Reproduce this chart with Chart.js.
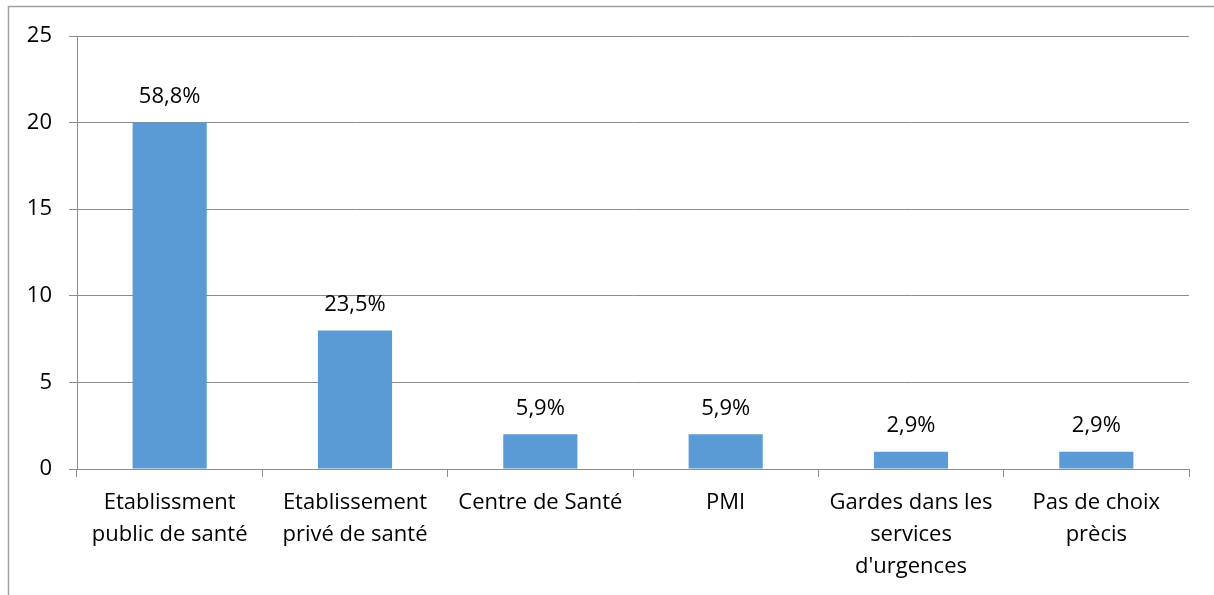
<!DOCTYPE html>
<html lang="fr">
<head>
    <meta charset="UTF-8">
    <title>Lieux de stage</title>
    <script src="https://cdn.jsdelivr.net/npm/chart.js"></script>
    <style>
        body { margin: 0; background: #fff; }
        #wrap { width: 1214px; height: 595px; position: relative; }
    </style>
</head>
<body>
<div id="wrap"><canvas id="chart"></canvas></div>
<script>
    // data
    const categories = [
        ['Etablissment', 'public de santé'],
        ['Etablissement', 'privé de santé'],
        'Centre de Santé',
        'PMI',
        ['Gardes dans les', 'services', "d'urgences"],
        ['Pas de choix', 'prècis']
    ];
    const counts = [20, 8, 2, 2, 1, 1];
    const percentLabels = ['58,8%', '23,5%', '5,9%', '5,9%', '2,9%', '2,9%'];
    const yTicks = [0, 5, 10, 15, 20, 25];

    const FONT = '"Open Sans", "Noto Sans", sans-serif';
    const gridGray = '#8c8c8c';

    // outer frame (left + top lines only, like the source)
    const framePlugin = {
        id: 'frame',
        beforeDraw(chart) {
            const ctx = chart.ctx;
            ctx.save();
            ctx.strokeStyle = '#a0a0a0';
            ctx.lineWidth = 1.5;
            ctx.beginPath();
            ctx.moveTo(8.5, 595);
            ctx.lineTo(8.5, 6.5);
            ctx.lineTo(1214, 6.5);
            ctx.stroke();
            ctx.restore();
        }
    };

    // percentage above each bar
    const valueLabels = {
        id: 'valueLabels',
        afterDatasetsDraw(chart) {
            const ctx = chart.ctx;
            const meta = chart.getDatasetMeta(0);
            ctx.save();
            ctx.font = '22px ' + FONT;
            ctx.fillStyle = '#000';
            ctx.textAlign = 'center';
            ctx.textBaseline = 'middle';
            meta.data.forEach((bar, i) => {
                ctx.fillText(percentLabels[i], bar.x, bar.y - 26);
            });
            ctx.restore();
        }
    };

    new Chart(document.getElementById('chart'), {
        type: 'bar',
        data: {
            labels: categories,
            datasets: [{
                data: counts,
                backgroundColor: '#5b9bd5',
                borderWidth: 0,
                categoryPercentage: 0.4,
                barPercentage: 1
            }]
        },
        options: {
            responsive: true,
            maintainAspectRatio: false,
            animation: false,
            layout: { padding: { left: 0, right: 25, top: 36, bottom: 0 } },
            plugins: { legend: { display: false }, tooltip: { enabled: false } },
            scales: {
                x: {
                    grid: { drawOnChartArea: false, color: gridGray, tickLength: 8, offset: true },
                    border: { color: gridGray, width: 1 },
                    ticks: {
                        color: '#000',
                        font: { family: FONT, size: 22, lineHeight: 1.45 },
                        padding: 10,
                        maxRotation: 0,
                        autoSkip: false
                    },
                    afterFit(scale) { scale.height = 126; }
                },
                y: {
                    min: 0,
                    max: 25,
                    afterBuildTicks(scale) { scale.ticks = yTicks.map(v => ({ value: v })); },
                    grid: { color: gridGray, tickLength: 8 },
                    border: { color: gridGray, width: 1 },
                    ticks: {
                        color: '#000',
                        font: { family: FONT, size: 22 },
                        padding: 17
                    },
                    afterFit(scale) { scale.width = 77; }
                }
            }
        },
        plugins: [framePlugin, valueLabels]
    });
</script>
</body>
</html>
